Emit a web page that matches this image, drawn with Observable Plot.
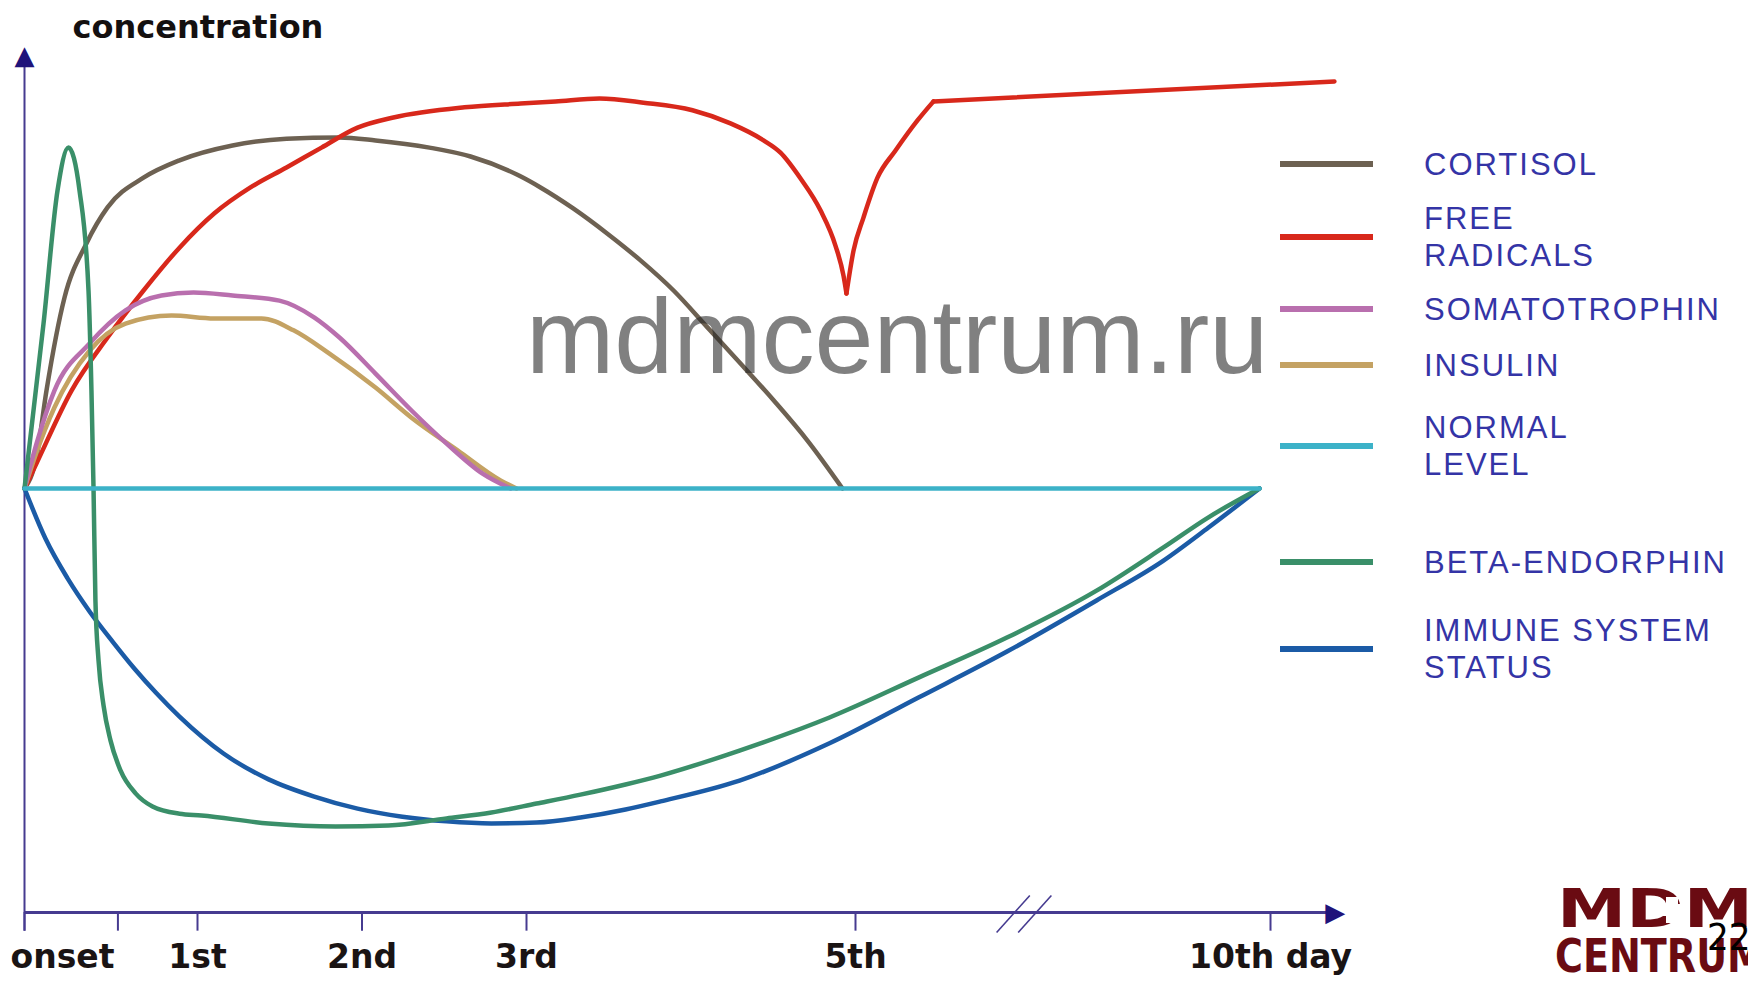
<!DOCTYPE html>
<html>
<head>
<meta charset="utf-8">
<script src="https://cdn.jsdelivr.net/npm/d3@7"></script>
<script src="https://cdn.jsdelivr.net/npm/@observablehq/plot@0.6"></script>
<style>
  html, body { margin: 0; padding: 0; background: #fff; overflow: hidden; }
  #chart { width: 1748px; height: 982px; }
</style>
</head>
<body>
<div id="chart"></div>
<script>
// ---------------- data ----------------
const seriesNames = ["CORTISOL", "FREE RADICALS", "SOMATOTROPHIN", "INSULIN", "NORMAL LEVEL", "BETA-ENDORPHIN", "IMMUNE SYSTEM STATUS"];
const seriesColors = ["#6d6152", "#d8281b", "#b96fae", "#c4a263", "#3cb2c8", "#3a8f69", "#1b5ba6"];
const legendLabels = [["CORTISOL"], ["FREE", "RADICALS"], ["SOMATOTROPHIN"], ["INSULIN"], ["NORMAL", "LEVEL"], ["BETA-ENDORPHIN"], ["IMMUNE SYSTEM", "STATUS"]];

const cortisolDay   = [0, 0.069, 0.127, 0.231, 0.358, 0.480, 0.688, 0.896, 1.213, 1.541, 1.863, 2.082, 2.410, 2.660, 2.954, 3.085, 3.286, 3.492, 3.693, 3.894, 4.100, 4.301, 4.502, 4.708, 4.921];
const cortisolLevel = [0, 7.3, 23.1, 45.0, 57.8, 66.3, 73.3, 77.4, 80.9, 82.5, 82.8, 82.1, 80.4, 78.3, 73.8, 71.0, 66.0, 60.1, 53.8, 46.7, 38.0, 29.5, 20.8, 11.3, 0];

const freeRadicalsDay   = [0, 0.069, 0.272, 0.480, 0.688, 0.896, 1.103, 1.322, 1.541, 1.754, 1.973, 2.191, 2.623, 2.964, 3.176, 3.444, 3.711, 4.009, 4.240, 4.441, 4.544, 4.666, 4.787, 4.878, 4.927, 4.945, 4.988, 5.096, 5.265, 5.482, 5.747, 5.940, 10.77];
const freeRadicalsLevel = [0, 5.9, 23.1, 35.6, 46.7, 56.8, 64.9, 71.0, 75.7, 80.4, 85.1, 87.5, 89.9, 90.8, 91.3, 92.0, 91.0, 89.2, 86.1, 82.1, 79.2, 73.1, 65.6, 57.3, 50.2, 46.0, 56.1, 63.9, 73.3, 79.7, 86.8, 91.3, 96.0];
const freeRadicalsCusps = [25, 31]; // sharp dip on day 5 and the kink after it

const somatotrophinDay   = [0, 0.069, 0.173, 0.376, 0.584, 0.792, 0.977, 1.213, 1.498, 1.711, 1.863, 2.082, 2.301, 2.514, 2.733, 2.903];
const somatotrophinLevel = [0, 10.5, 23.1, 34.2, 42.0, 45.5, 46.2, 45.5, 44.3, 40.3, 35.6, 27.1, 18.4, 10.6, 3.5, 0];

const insulinDay   = [0, 0.069, 0.173, 0.376, 0.584, 0.850, 1.103, 1.389, 1.584, 1.802, 2.082, 2.301, 2.581, 2.842, 2.939];
const insulinLevel = [0, 8.5, 19.1, 32.5, 38.9, 40.8, 40.1, 40.1, 37.3, 31.8, 23.8, 16.7, 9.0, 1.9, 0];

const normalDay   = [0, 9.867];
const normalLevel = [0, 0];

const betaDay   = [0, 0.110, 0.191, 0.254, 0.318, 0.370, 0.387, 0.399, 0.410, 0.428, 0.457, 0.497, 0.555, 0.642, 0.740, 0.896, 1.024, 1.432, 1.839, 2.161, 2.514, 2.787, 3.061, 3.328, 3.602, 3.815, 4.295, 4.842, 5.759, 6.831, 7.904, 8.711, 9.253, 9.867];
const betaLevel = [0, 38.9, 70.3, 80.4, 70.3, 46.7, 23.1, 0, -26.4, -40.6, -51.2, -59.4, -66.5, -71.9, -75.0, -76.7, -77.1, -79.0, -79.7, -79.5, -77.8, -76.4, -74.3, -72.2, -69.8, -67.7, -61.8, -54.0, -44.6, -35.1, -24.1, -13.9, -6.8, 0];

const immuneDay   = [0, 0.121, 0.249, 0.376, 0.509, 0.636, 0.763, 0.896, 1.158, 1.432, 1.705, 1.973, 2.246, 2.514, 2.787, 3.061, 3.328, 3.602, 3.815, 4.295, 4.842, 5.759, 6.831, 7.904, 8.711, 9.253, 9.867];
const immuneLevel = [0, -11.8, -21.2, -29.0, -36.1, -42.5, -48.3, -53.8, -62.5, -68.6, -72.6, -75.5, -77.4, -78.5, -79.0, -78.8, -77.6, -75.7, -73.8, -68.9, -60.1, -49.3, -38.4, -26.4, -17.0, -9.2, 0];

const tickDays = [0, 0.54, 1, 2, 3, 5, 10];
const labelDays = [1, 2, 3, 5, 10];
const labelTexts = ["1st", "2nd", "3rd", "5th", "10th day"];
const onsetLabel = ["onset"];
const breakSlashDays = [6.90, 7.16];
const axisTitle = ["concentration"];

// ---------------- build table ----------------
const drawOrder = [
  {name: seriesNames[0], day: cortisolDay, level: cortisolLevel, cusps: []},
  {name: seriesNames[1], day: freeRadicalsDay, level: freeRadicalsLevel, cusps: freeRadicalsCusps},
  {name: seriesNames[3], day: insulinDay, level: insulinLevel, cusps: []},
  {name: seriesNames[2], day: somatotrophinDay, level: somatotrophinLevel, cusps: []},
  {name: seriesNames[6], day: immuneDay, level: immuneLevel, cusps: []},
  {name: seriesNames[5], day: betaDay, level: betaLevel, cusps: []},
  {name: seriesNames[4], day: normalDay, level: normalLevel, cusps: []}
];
const rows = [];
drawOrder.forEach(s => {
  let seg = 0;
  s.day.forEach((d, i) => {
    rows.push({series: s.name, seg: s.name + "#" + seg, day: d, level: s.level[i]});
    if (s.cusps.includes(i)) {
      seg++;
      rows.push({series: s.name, seg: s.name + "#" + seg, day: d, level: s.level[i]});
    }
  });
});

const axisColor = "#463b90";
const headColor = "#1f137a";
const sans = "DejaVu Sans";

const plot = Plot.plot({
  width: 1748,
  height: 982,
  margin: 0,
  style: {background: "#fff"},
  x: {type: "linear", domain: [0, 1, 5, 10], range: [24, 197, 855, 1270], axis: null},
  y: {type: "linear", domain: [-100, 100], range: [912, 64], axis: null},
  color: {domain: seriesNames, range: seriesColors},
  marks: [
    // axes
    Plot.ruleX([0], {y1: -104.4, y2: 101, stroke: axisColor, strokeWidth: 2}),
    Plot.ruleY([-100], {x1: 0, x2: 10.72, stroke: axisColor, strokeWidth: 3}),
    Plot.ruleX(tickDays, {x: d => d, y1: -100, y2: -104.4, stroke: axisColor, strokeWidth: 2}),
    Plot.link(breakSlashDays, {x1: d => d - 0.2, x2: d => d + 0.2, y1: -104.7, y2: -96, stroke: axisColor, strokeWidth: 1.6}),
    Plot.text(["\u25B2"], {x: 0, y: 102, text: d => d, fill: headColor, fontSize: 26, fontFamily: sans, lineAnchor: "middle"}),
    Plot.text(["\u25B6"], {x: 10.78, y: -100, text: d => d, fill: headColor, fontSize: 26, fontFamily: sans, lineAnchor: "middle"}),
    // curves
    Plot.line(rows, {x: "day", y: "level", z: "seg", stroke: "series", strokeWidth: 4.5, curve: "monotone-x", strokeLinejoin: "round", strokeLinecap: "round"}),
    // tick labels
    Plot.text(labelDays, {x: d => d, y: -100, dy: 55, text: (d, i) => labelTexts[i], lineAnchor: "bottom", textAnchor: "middle", fontFamily: sans, fontWeight: "bold", fontSize: 33, fill: "#1a1414"}),
    Plot.text(onsetLabel, {x: 0, y: -100, dy: 55, dx: -14, text: d => d, lineAnchor: "bottom", textAnchor: "start", fontFamily: sans, fontWeight: "bold", fontSize: 33, fill: "#1a1414"}),
    // axis title
    Plot.text(axisTitle, {frameAnchor: "top-left", dx: 72, dy: 37, text: d => d, lineAnchor: "bottom", textAnchor: "start", fontFamily: sans, fontWeight: "bold", fontSize: 32, fill: "#141010"})
  ]
});
document.getElementById("chart").appendChild(plot);

// ---------------- legend, watermark, logo ----------------
const svg = d3.select(plot);
const legendY = [164, 237, 309, 365, 446, 562, 649];
const legend = svg.append("g").attr("text-anchor", "start");
seriesNames.forEach((name, i) => {
  const cy = legendY[i];
  legend.append("line")
    .attr("x1", 1280).attr("x2", 1373).attr("y1", cy).attr("y2", cy)
    .attr("stroke", seriesColors[i]).attr("stroke-width", 6);
  const lines = legendLabels[i];
  lines.forEach((t, j) => {
    const ty = cy + (j - (lines.length - 1) / 2) * 37;
    legend.append("text")
      .attr("x", 1424).attr("y", ty)
      .attr("text-anchor", "start")
      .attr("dominant-baseline", "central")
      .attr("font-family", "Liberation Sans, Arial, sans-serif")
      .attr("font-size", 31)
      .attr("letter-spacing", 2)
      .attr("fill", "#3434a6")
      .text(t);
  });
});

svg.append("text")
  .attr("x", 526).attr("y", 373)
  .attr("text-anchor", "start")
  .attr("font-family", "Liberation Sans, Arial, sans-serif")
  .attr("font-size", 106)
  .attr("fill", "rgb(39,39,39)")
  .attr("fill-opacity", 0.59)
  .text("mdmcentrum.ru");

const logo = svg.append("g").attr("text-anchor", "start");
logo.append("text")
  .attr("x", 1557).attr("y", 927)
  .attr("text-anchor", "start")
  .attr("font-family", sans).attr("font-weight", "bold").attr("font-size", 54)
  .attr("textLength", 196).attr("lengthAdjust", "spacingAndGlyphs")
  .attr("fill", "#6a0b12").text("MDM");
logo.append("rect").attr("x", 1666).attr("y", 897).attr("width", 12).attr("height", 26).attr("fill", "#fff");
logo.append("rect").attr("x", 1659).attr("y", 904).attr("width", 26).attr("height", 12).attr("fill", "#fff");
logo.append("text")
  .attr("x", 1555).attr("y", 972)
  .attr("text-anchor", "start")
  .attr("font-family", sans).attr("font-weight", "bold").attr("font-size", 47)
  .attr("textLength", 210).attr("lengthAdjust", "spacingAndGlyphs")
  .attr("fill", "#6a0b12").text("CENTRUM");
svg.append("text")
  .attr("x", 1707).attr("y", 950)
  .attr("text-anchor", "start")
  .attr("font-family", "Liberation Sans Narrow, DejaVu Sans Condensed, sans-serif")
  .attr("font-stretch", "condensed")
  .attr("font-size", 38)
  .attr("fill", "#000").text("22");
</script>
</body>
</html>
